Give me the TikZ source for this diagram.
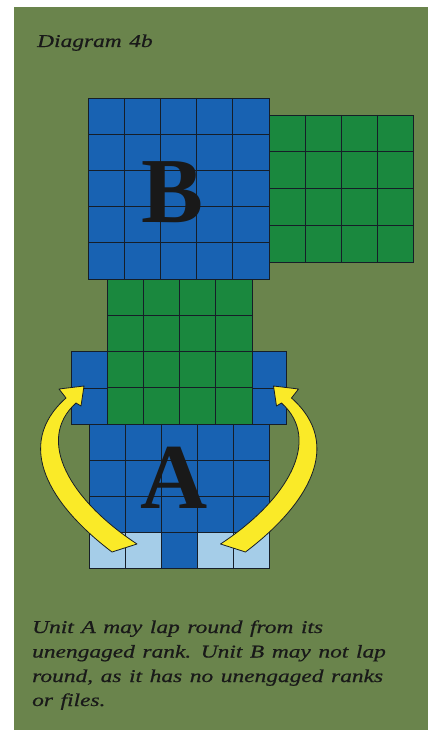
\documentclass[tikz,border=0pt]{standalone}
\usepackage{fontspec}
\setmainfont{Liberation Serif}
\newfontfamily\capfont[FakeStretch=1.3,WordSpace=1.3,FakeBold=0.6]{Liberation Serif}
\definecolor{bgolive}{RGB}{106,132,76}
\definecolor{unitblue}{RGB}{24,98,178}
\definecolor{unitgreen}{RGB}{26,136,62}
\definecolor{lightblue}{RGB}{165,205,232}
\definecolor{arrowyellow}{RGB}{250,234,40}
\definecolor{edgedark}{RGB}{22,30,40}
\tikzset{
  cellline/.style={draw=edgedark, line width=0.7pt},
  bigletter/.style={font=\bfseries\fontsize{93}{93}\selectfont, text=black!90, inner sep=0pt},
  captext/.style={font=\capfont\itshape\fontsize{18}{24}\selectfont, text=black!90, inner sep=0pt, anchor=base west},
  titletext/.style={font=\capfont\itshape\fontsize{18}{24}\selectfont, text=black!90, inner sep=0pt, anchor=base west},
  lapArrow/.style={fill=arrowyellow, draw=edgedark, line width=0.8pt, line join=round},
}
\newcommand\unitgrid[7]{% x0 y0 x1 y1 cols rows fill
  \fill[#7] (#1,#2) rectangle (#3,#4);
  \pgfmathtruncatemacro\ncm{#5-1}
  \pgfmathtruncatemacro\nrm{#6-1}
  \foreach \k in {1,...,\ncm}{\draw[cellline] ({#1+(#3-#1)*\k/#5},#2) -- ({#1+(#3-#1)*\k/#5},#4);}
  \foreach \k in {1,...,\nrm}{\draw[cellline] (#1,{#2+(#4-#2)*\k/#6}) -- (#3,{#2+(#4-#2)*\k/#6});}
  \draw[cellline] (#1,#2) rectangle (#3,#4);
}
\begin{document}
\begin{tikzpicture}[x=1pt,y=-1pt]
\useasboundingbox (0,0) rectangle (433,730);
\fill[white] (0,0) rectangle (433,730);
\fill[bgolive] (14,7) rectangle (428,730);
% Unit B and its opponent
\unitgrid{88}{98}{269}{279}{5}{5}{unitblue}
\unitgrid{269}{115}{413}{262}{4}{4}{unitgreen}
% Unit A front ranks (wings) and the engaged green unit
\unitgrid{71.7}{351.7}{286.7}{424}{6}{2}{unitblue}
\unitgrid{107}{279}{252}{424}{4}{4}{unitgreen}
% Unit A body
\fill[unitblue] (89,424) rectangle (269,568);
\fill[lightblue] (89,532) rectangle (161,568);
\fill[lightblue] (197,532) rectangle (269,568);
\foreach \k in {1,2,3,4}{\draw[cellline] ({89+36*\k},424) -- ({89+36*\k},568);}
\foreach \k in {1,2,3}{\draw[cellline] (89,{424+36*\k}) -- (269,{424+36*\k});}
\draw[cellline] (89,424) rectangle (269,568);
% letters
\node[bigletter] (B) at (173,192) {B};
\node[bigletter] (A) at (174,478) {A};
% arrows
\draw[lapArrow] (112,552) .. controls (50,505) and (13,445) .. (66,398) -- (59,389) -- (84,386) -- (81,406) -- (76,403) .. controls (35,440) and (70,500) .. (137,544) -- cycle;
\begin{scope}[shift={(357.5,0)}, xscale=-1]
\draw[lapArrow] (112,552) .. controls (50,505) and (13,445) .. (66,398) -- (59,389) -- (84,386) -- (81,406) -- (76,403) .. controls (35,440) and (70,500) .. (137,544) -- cycle;
\end{scope}
% texts
\node[titletext] (title) at (37,47) {Diagram 4b};
\node[captext] (t1) at (32,633) {Unit A may lap round from its};
\node[captext] (t2) at (32,657.5) {unengaged rank. Unit B may not lap};
\node[captext] (t3) at (32,682) {round, as it has no unengaged ranks};
\node[captext] (t4) at (32,706) {or files.};
\end{tikzpicture}
\end{document}
